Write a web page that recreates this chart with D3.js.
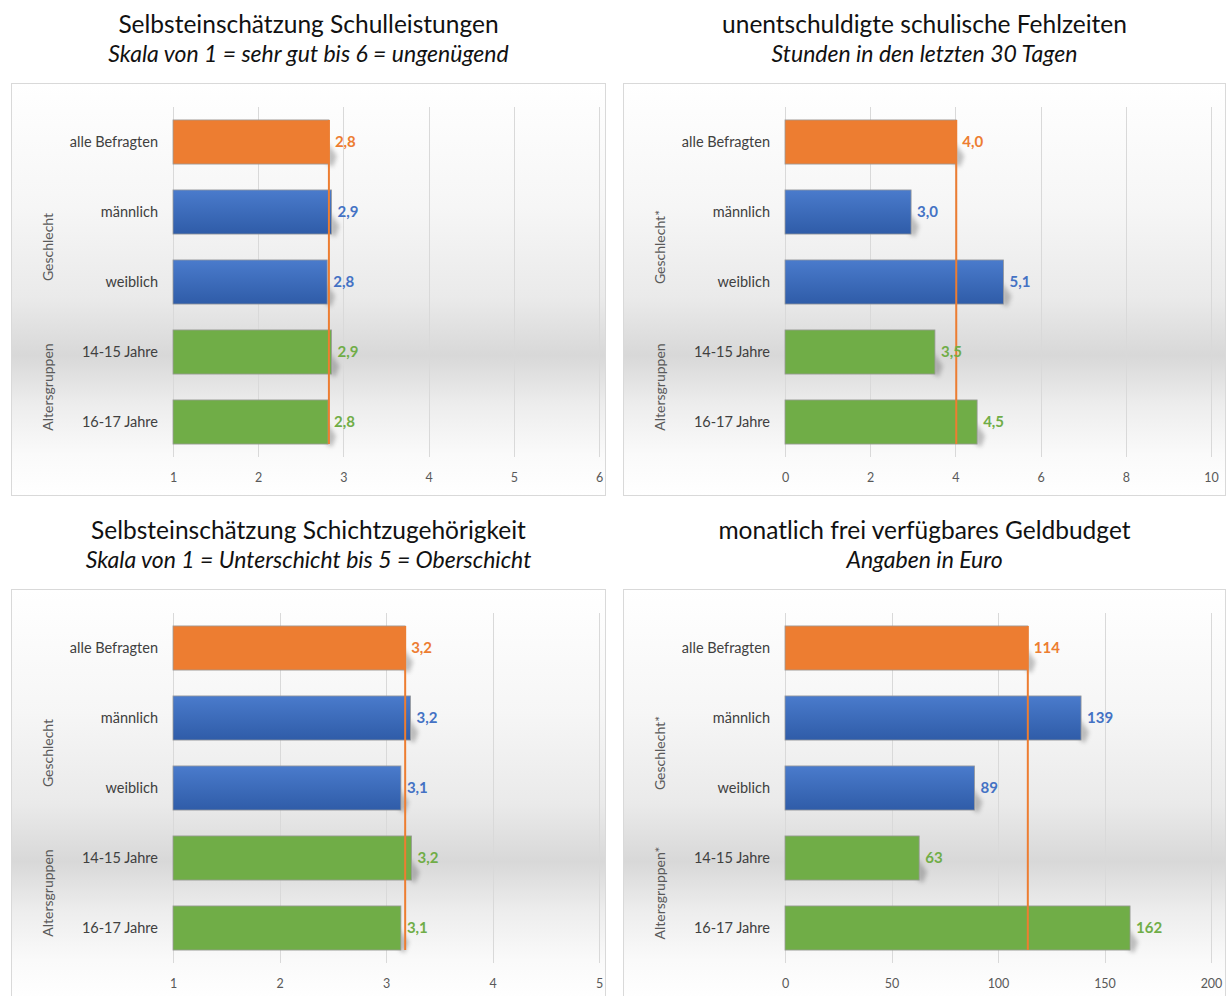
<!DOCTYPE html>
<html lang="de">
<head>
<meta charset="UTF-8">
<title>Jugendbefragung</title>
<script src="https://cdn.jsdelivr.net/npm/d3@7"></script>
<style>
  body{margin:0;background:#fff;}
  svg{display:block;font-family:Lato,"Open Sans",sans-serif;}
</style>
</head>
<body>
<div id="draw"></div>
<script>
// Kategorien (für alle vier Diagramme gleich)
var categories = ["alle Befragten", "männlich", "weiblich", "14-15 Jahre", "16-17 Jahre"];

// Werte je Diagramm
var schulleistungen = [2.83, 2.86, 2.81, 2.86, 2.82];
var fehlzeiten = [4.02, 2.96, 5.13, 3.52, 4.51];
var schicht = [3.18, 3.23, 3.14, 3.24, 3.14];
var geldbudget = [114, 139, 89, 63, 162];

// Achsenticks
var ticksSchule = [1, 2, 3, 4, 5, 6];
var ticksFehl = [0, 2, 4, 6, 8, 10];
var ticksSchicht = [1, 2, 3, 4, 5];
var ticksGeld = [0, 50, 100, 150, 200];

// Überschriften
var titles = ["Selbsteinschätzung Schulleistungen", "unentschuldigte schulische Fehlzeiten",
              "Selbsteinschätzung Schichtzugehörigkeit", "monatlich frei verfügbares Geldbudget"];
var subtitles = ["Skala von 1 = sehr gut bis 6 = ungenügend", "Stunden in den letzten 30 Tagen",
                 "Skala von 1 = Unterschicht bis 5 = Oberschicht", "Angaben in Euro"];
var groupSex = ["Geschlecht", "Geschlecht*", "Geschlecht", "Geschlecht*"];
var groupAge = ["Altersgruppen", "Altersgruppen", "Altersgruppen", "Altersgruppen*"];

var panels = [
  {values: schulleistungen, ticks: ticksSchule, dec: 1, bx: 11.5, by: 83.5, bw: 594},
  {values: fehlzeiten, ticks: ticksFehl, dec: 1, bx: 623.5, by: 83.5, bw: 602},
  {values: schicht, ticks: ticksSchicht, dec: 1, bx: 11.5, by: 589.5, bw: 594},
  {values: geldbudget, ticks: ticksGeld, dec: 0, bx: 623.5, by: 589.5, bw: 602}
];

var W = 1227, H = 996;
var orange = "#ED7D31", blue = "#4472C4", green = "#70AD47";
var barColor = [orange, blue, blue, green, green];

var svg = d3.select("#draw").append("svg")
    .attr("width", W)
    .attr("height", H);

var defs = svg.append("defs");
var bg = defs.append("linearGradient").attr("id", "bg")
    .attr("x1", 0).attr("y1", 0).attr("x2", 0).attr("y2", 1);
[[0, "#ffffff"], [0.3, "#f6f6f6"], [0.52, "#eaeaea"], [0.66, "#d8d8d8"], [0.78, "#ededed"], [0.9, "#fafafa"], [1, "#ffffff"]]
  .forEach(function(s){ bg.append("stop").attr("offset", s[0]).attr("stop-color", s[1]); });

var bl = defs.append("linearGradient").attr("id", "blueGrad")
    .attr("x1", 0).attr("y1", 0).attr("x2", 0).attr("y2", 1);
bl.append("stop").attr("offset", 0).attr("stop-color", "#4a7bcc");
bl.append("stop").attr("offset", 1).attr("stop-color", "#2f5ca8");

defs.append("filter").attr("id", "blur")
    .attr("x", "-50%").attr("y", "-50%").attr("width", "200%").attr("height", "200%")
  .append("feGaussianBlur").attr("stdDeviation", 2.2);

function fmt(v, dec){
  return d3.format("." + dec + "f")(v).replace(".", ",");
}

panels.forEach(function(p, i){
  var g = svg.append("g");
  var cx = p.bx + p.bw / 2;

  g.append("text").attr("x", cx).attr("y", p.by - 51)
    .attr("text-anchor", "middle").attr("font-size", 24.5).attr("fill", "#111")
    .text(titles[i]);
  g.append("text").attr("x", cx).attr("y", p.by - 22)
    .attr("text-anchor", "middle").attr("font-size", 23).attr("font-style", "italic").attr("fill", "#111")
    .text(subtitles[i]);

  g.append("rect").attr("x", p.bx).attr("y", p.by)
    .attr("width", p.bw).attr("height", 412)
    .attr("fill", "url(#bg)").attr("stroke", "#d9d9d9");

  var left = p.bx + 161.5;
  var x = d3.scaleLinear()
      .domain([p.ticks[0], p.ticks[p.ticks.length - 1]])
      .range([left, left + 426]);
  var y = d3.scaleBand().domain(categories)
      .range([p.by + 23.5, p.by + 373.5])
      .paddingInner(0.37).paddingOuter(0.185);

  // Gitternetz
  g.selectAll(".grid").data(p.ticks).enter().append("line")
    .attr("x1", function(d){ return Math.round(x(d)) + 0.5; })
    .attr("x2", function(d){ return Math.round(x(d)) + 0.5; })
    .attr("y1", p.by + 23.5).attr("y2", p.by + 373.5)
    .attr("stroke", "#d9d9d9").attr("stroke-width", 1);

  var axis = d3.axisBottom(x).tickValues(p.ticks).tickSize(0).tickPadding(0)
      .tickFormat(function(d){ return d; });
  var ax = g.append("g").attr("transform", "translate(0," + (p.by + 390) + ")").call(axis);
  ax.select(".domain").remove();
  ax.selectAll("text").attr("font-size", 12.5).attr("fill", "#595959")
    .attr("font-family", "Lato,sans-serif");

  // Schatten
  g.selectAll(".shadow").data(p.values).enter().append("path")
    .attr("d", function(d, k){
      var x1 = x(d), y0 = y(categories[k]), h = y.bandwidth();
      return "M" + (x1 - 2) + "," + (y0 + h * 0.5) +
             "L" + (x1 + 8) + "," + (y0 + h * 0.82) +
             "L" + (x1 + 4) + "," + (y0 + h + 3) +
             "L" + (x1 - 2) + "," + (y0 + h) + "Z";
    })
    .attr("fill", "#555").attr("opacity", 0.35).attr("filter", "url(#blur)");

  g.selectAll(".bar").data(p.values).enter().append("rect")
    .attr("x", left)
    .attr("y", function(d, k){ return y(categories[k]); })
    .attr("width", function(d){ return x(d) - left; })
    .attr("height", y.bandwidth())
    .attr("fill", function(d, k){ return (k == 1 || k == 2) ? "url(#blueGrad)" : barColor[k]; })
    .attr("stroke", "#9a9a9a").attr("stroke-width", 0.8);

  // Mittelwertlinie
  g.append("line")
    .attr("x1", x(p.values[0])).attr("x2", x(p.values[0]))
    .attr("y1", y(categories[0])).attr("y2", y(categories[4]) + y.bandwidth())
    .attr("stroke", orange).attr("stroke-width", 2);

  g.selectAll(".val").data(p.values).enter().append("text")
    .attr("x", function(d){ return x(d) + 6; })
    .attr("y", function(d, k){ return y(categories[k]) + y.bandwidth() / 2; })
    .attr("dy", "0.36em")
    .attr("font-size", 15).attr("font-weight", "bold")
    .attr("fill", function(d, k){ return barColor[k]; })
    .text(function(d){ return fmt(d, p.dec); });

  g.selectAll(".cat").data(categories).enter().append("text")
    .attr("x", left - 15)
    .attr("y", function(d){ return y(d) + y.bandwidth() / 2; })
    .attr("dy", "0.36em").attr("text-anchor", "end")
    .attr("font-size", 14.5).attr("fill", "#404040")
    .text(function(d){ return d; });

  var gx = p.bx + 36;
  var gy1 = (y(categories[1]) + y(categories[2]) + y.bandwidth()) / 2;
  var gy2 = (y(categories[3]) + y(categories[4]) + y.bandwidth()) / 2;
  [[groupSex[i], gy1], [groupAge[i], gy2]].forEach(function(a){
    g.append("text")
      .attr("transform", "translate(" + gx + "," + a[1] + ") rotate(-90)")
      .attr("text-anchor", "middle").attr("dy", "0.36em")
      .attr("font-size", 14).attr("fill", "#595959")
      .text(a[0]);
  });
});
</script>
</body>
</html>
